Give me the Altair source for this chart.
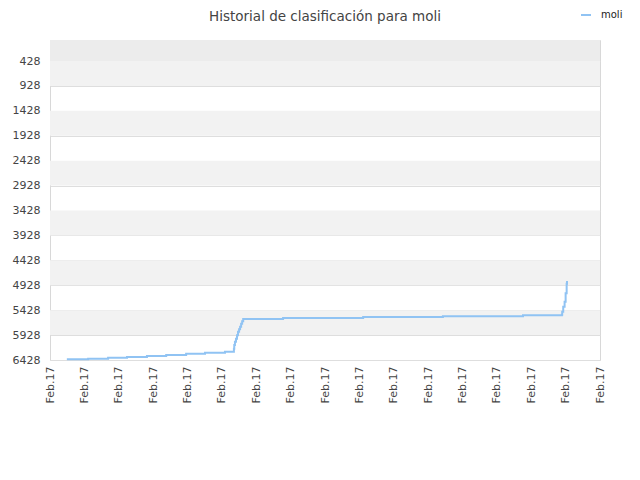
import altair as alt
import pandas as pd

# x positions in axis units (0..16, one per "Feb.17" tick), ranks (lower is better)
xs = [0.49, 1.11, 1.69, 2.24, 2.82, 3.38, 3.96, 4.51, 5.09, 5.35, 5.36, 5.38, 5.41, 5.44,
      5.47, 5.50, 5.53, 5.56, 5.59, 5.62, 6.78, 9.11, 11.43, 13.76, 14.89, 14.90, 14.93,
      14.97, 15.00, 15.03, 15.04]
ranks = [6414, 6402, 6382, 6368, 6348, 6328, 6302, 6282, 6261, 6200, 6127, 6060, 6000,
         5930, 5860, 5810, 5759, 5700, 5650, 5605, 5585, 5565, 5550, 5530, 5518, 5458,
         5358, 5257, 5089, 4900, 4842]
series_name = "moli"
tick_values = list(range(17))
tick_label = "Feb.17"
y_ticks = [428 + 500 * k for k in range(13)]
band_lo = [6, 428, 1428, 2428, 3428, 4428, 5428]
band_hi = [428, 928, 1928, 2928, 3928, 4928, 5928]
band_col = ["#ececec", "#f2f2f2", "#f2f2f2", "#f2f2f2", "#f2f2f2", "#f2f2f2", "#f2f2f2"]

line_df = pd.DataFrame({"x": xs, "rank": ranks, "serie": series_name})
band_df = pd.DataFrame({"lo": band_lo, "hi": band_hi, "c": band_col})

yscale = alt.Scale(domain=[6, 6428], reverse=True, nice=False, zero=False)
xscale = alt.Scale(domain=[0, 16], nice=False, zero=False)

yaxis = alt.Axis(values=y_ticks, format="d", labelOverlap=False, title=None,
                 grid=True, gridColor="#dedede", tickCount=13,
                 ticks=False, labelPadding=10, labelFontSize=11,
                 labelColor="#444444", labelFont="DejaVu Sans", domain=False)

bands = alt.Chart(band_df).mark_rect().encode(
    x=alt.value(0), x2=alt.value(550),
    y=alt.Y("lo:Q", scale=yscale, axis=yaxis),
    y2="hi:Q",
    color=alt.Color("c:N", scale=None),
)

line = alt.Chart(line_df).mark_line(interpolate="step-after", strokeWidth=2).encode(
    x=alt.X("x:Q", scale=xscale,
            axis=alt.Axis(values=tick_values, labelExpr=f"'{tick_label}'", title=None,
                          grid=False, ticks=False, labelAngle=270, labelAlign="right",
                          labelBaseline="middle", labelPadding=6, labelFontSize=11,
                          labelOverlap=False,
                          labelColor="#444444", labelFont="DejaVu Sans", domain=False)),
    y=alt.Y("rank:Q", scale=yscale, axis=yaxis),
    color=alt.Color("serie:N", scale=alt.Scale(range=["#90c3f3"]),
                    legend=alt.Legend(title=None, orient="none", legendX=530, legendY=-31,
                                      symbolType="stroke", symbolStrokeWidth=2,
                                      symbolSize=100, labelFontSize=10, labelOffset=9,
                                      labelFont="DejaVu Sans", labelColor="#222222")),
)

chart = alt.layer(bands, line).properties(
    width=550, height=320,
    title=alt.TitleParams("Historial de clasificación para moli", fontSize=13.5,
                          font="DejaVu Sans", fontWeight="normal", color="#444444",
                          anchor="middle", offset=0, dy=14),
    autosize=alt.AutoSizeParams(type="none"),
    padding={"left": 42, "top": 32, "right": 32, "bottom": 100},
).configure_view(stroke="#d8d8d8", strokeWidth=1)

chart.save("out.html", embed_options={"renderer": "svg", "actions": False})
